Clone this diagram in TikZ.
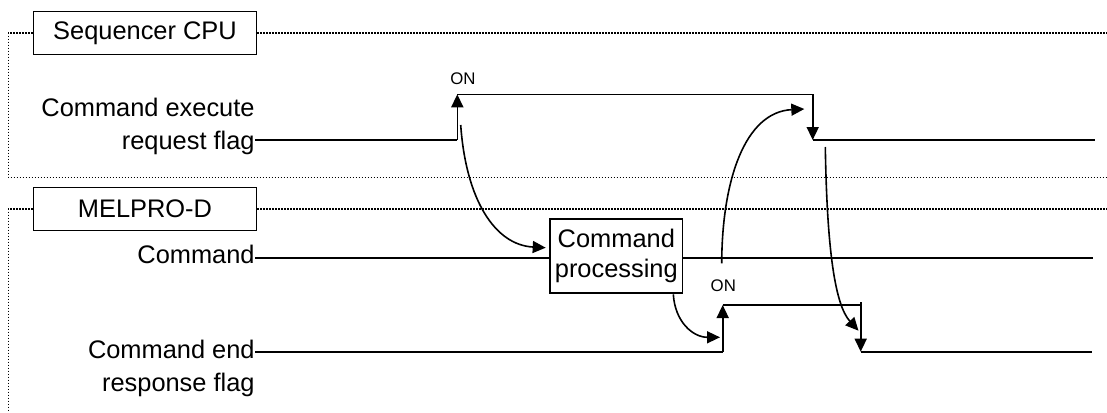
\documentclass[tikz,border=0pt]{standalone}
\usepackage{fontspec}
\setmainfont{Liberation Sans}
\usetikzlibrary{arrows.meta, positioning}

\begin{document}
\begin{tikzpicture}[x=0.5pt, y=-0.5pt,
    every node/.style={inner sep=0pt},
    lbl/.style={font=\fontsize{12.7}{16.5}\selectfont, align=right},
    title/.style={draw, line width=0.7pt, minimum width=111.5pt, minimum height=21.5pt,
        font=\fontsize{12.7}{16.5}\selectfont},
    procbox/.style={draw, line width=0.7pt, minimum width=66.4pt, minimum height=37pt,
        align=center, font=\fontsize{12.7}{15}\selectfont},
    onlbl/.style={font=\fontsize{8.4}{10}\selectfont},
    frame/.style={line width=0.7pt, dash pattern=on 0.75pt off 0.75pt},
    sig/.style={line width=0.8pt},
    >={Triangle[length=6.5pt, width=6pt]}]
    \useasboundingbox (0,0) rectangle (1107,412);

    % group frames
    \node[title] (seq) at (145,33) {Sequencer CPU};
    \node[title] (mel) at (145,209) {MELPRO-D};
    \draw[frame] (seq.west) -| (8.3,177.3) -- (1107,177.3);
    \draw[frame] (seq.east) -- (1107,33);
    \draw[frame] (mel.west) -| (8.3,412);
    \draw[frame] (mel.east) -- (1107,209);

    % signal names
    \node[lbl, anchor=base east] (req) at (255,149.2) {Command execute\\request flag};
    \node[lbl, anchor=base east] (cmd) at (255,263.3) {Command};
    \node[lbl, anchor=base east] (resp) at (255,391.8) {Command end\\response flag};
    \node[procbox] (proc) at (616.3,256) {Command\\processing};
    \node[onlbl] (on1) at (463,78.3) {ON};
    \node[onlbl] (on2) at (723.3,286) {ON};

    % command execute request flag
    \coordinate (a0) at (255,140);
    \coordinate (a1) at (457.3,140);
    \coordinate (a2) at (457.3,94.3);
    \coordinate (a3) at (812.7,94.3);
    \coordinate (a4) at (812.7,140);
    \coordinate (a5) at (1095,140);
    \draw[sig]
    (a0) -- (a1) edge[->] (a2)
    (a2) -- (a3) edge[->] (a4)
    (a4) -- (a5);

    % command
    \coordinate (c0) at (255,257.7);
    \coordinate (c1) at (1093,257.7);
    \draw[sig] (c0) -- (c0 -| proc.west) (c1 -| proc.east) -- (c1);

    % command end response flag
    \coordinate (b0) at (255,351.7);
    \coordinate (b1) at (722.7,351.7);
    \coordinate (b2) at (722.7,305);
    \coordinate (b3) at (860.7,305);
    \coordinate (b3t) at (860.7,302);
    \coordinate (b4) at (860.7,351.7);
    \coordinate (b5) at (1091.7,351.7);
    \draw[sig]
    (b0) -- (b1) edge[->] (b2)
    (b2) -- (b3)
    (b3t) edge[->] (b4)
    (b4) -- (b5);

    % handshake curves
    \coordinate (k1) at (460.7,125);
    \coordinate (k2) at (545.7,247.7);
    \coordinate (k3) at (673.3,294.3);
    \coordinate (k4) at (720,337.3);
    \coordinate (k5) at (721.7,263.3);
    \coordinate (k6) at (804.3,109);
    \coordinate (k7) at (825.3,147);
    \coordinate (k8) at (858.5,330.7);
    \draw[sig, ->] (k1) .. controls (466,200) and (495,245) .. (k2);
    \draw[sig, ->] (k3) .. controls (675,322) and (693,337.3) .. (k4);
    \draw[sig, ->] (k5) .. controls (722,180) and (745,112) .. (k6);
    \draw[sig, ->] (k7) .. controls (827,250) and (835,305) .. (k8);
\end{tikzpicture}
\end{document}
